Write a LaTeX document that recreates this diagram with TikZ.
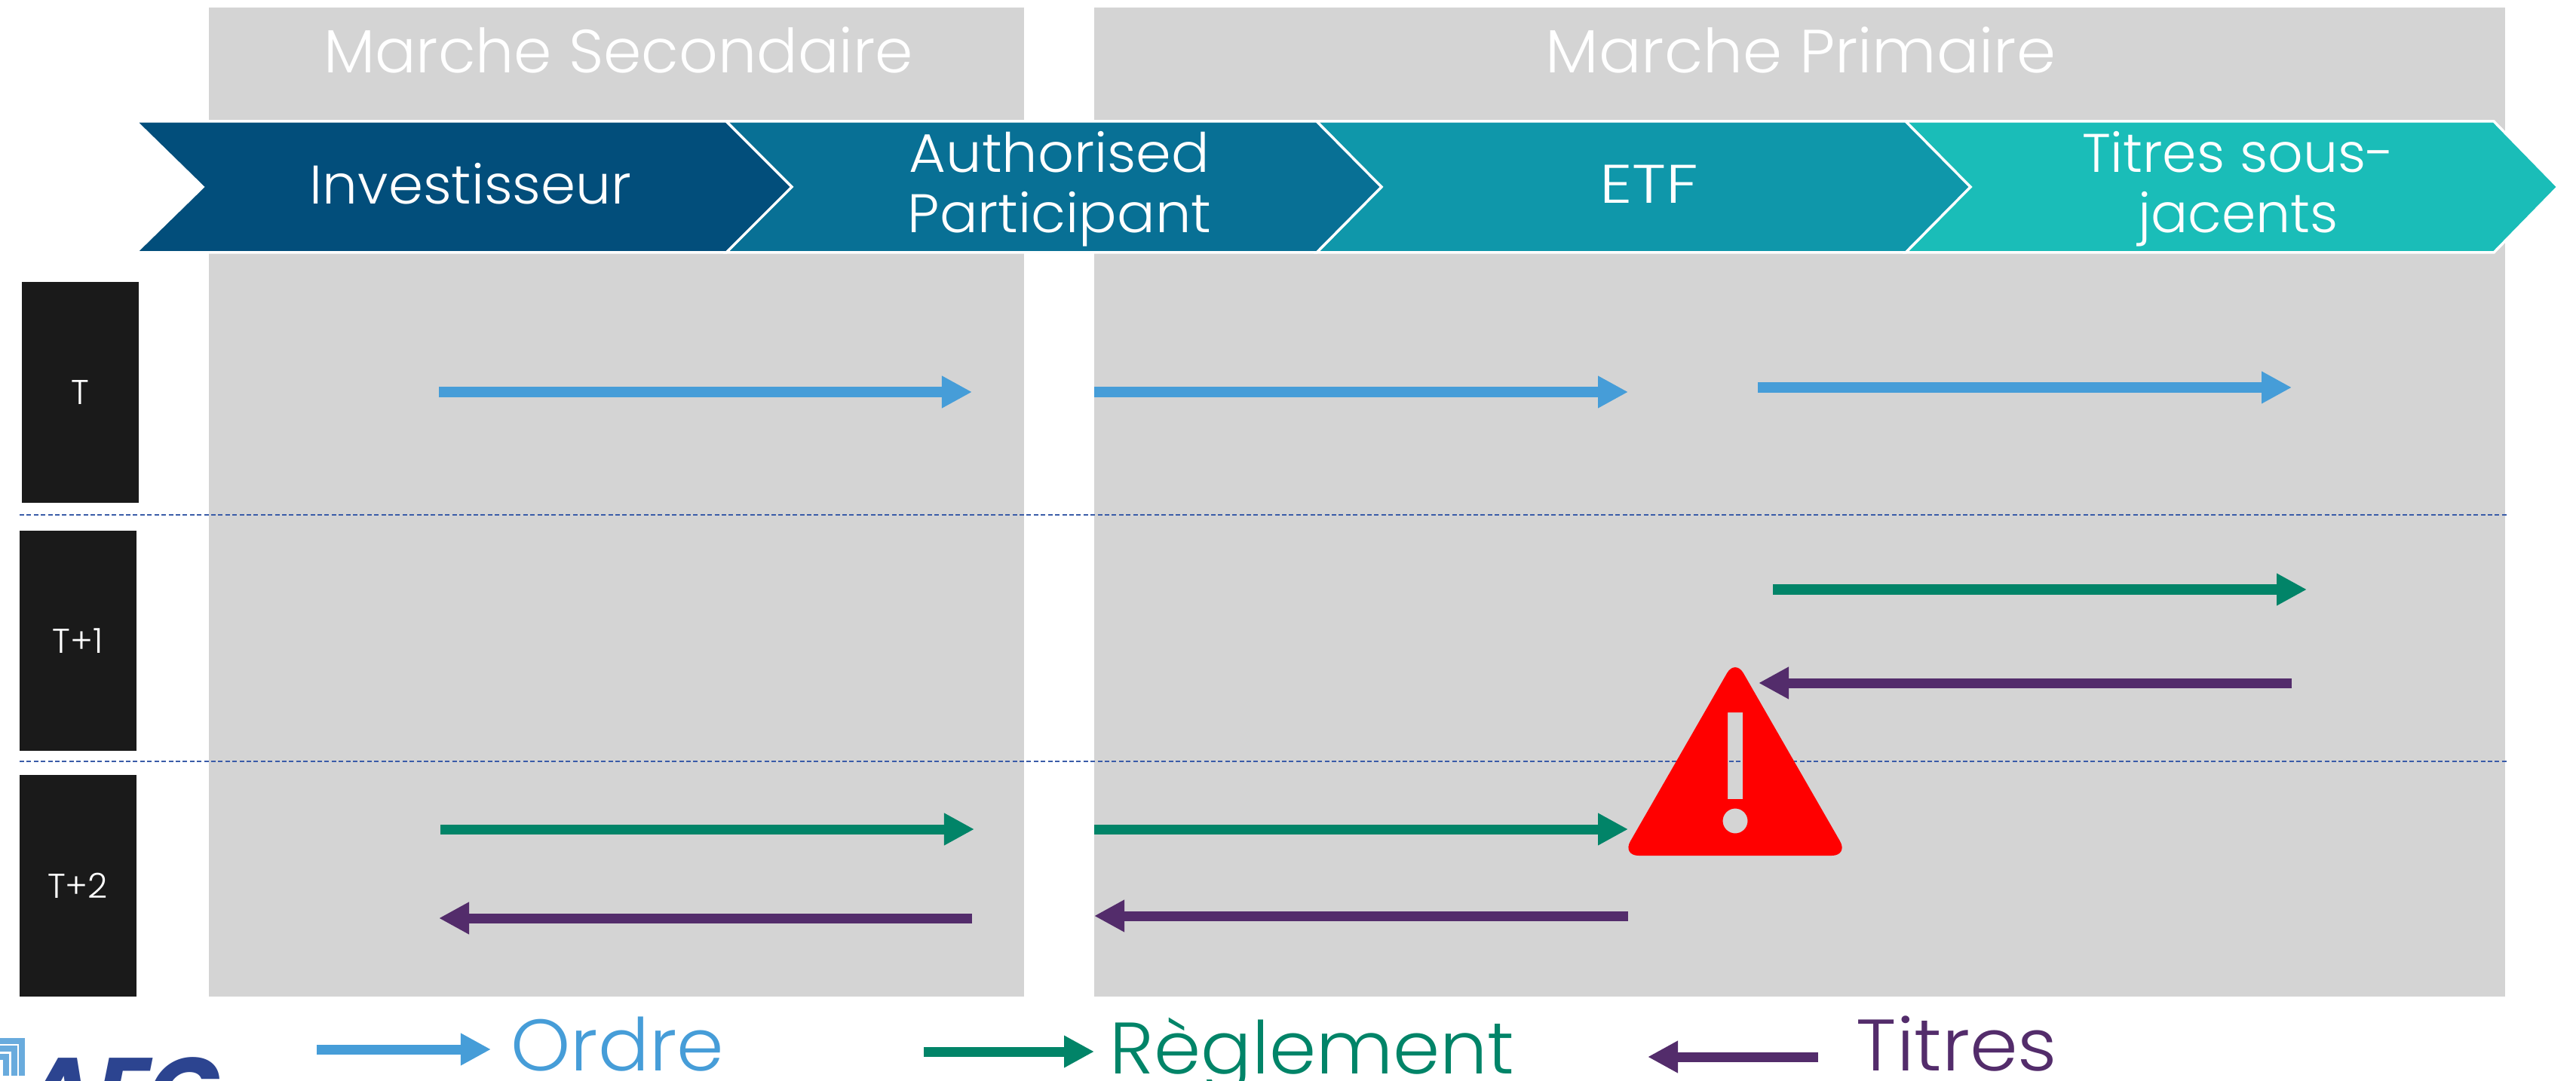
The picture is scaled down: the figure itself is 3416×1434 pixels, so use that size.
\documentclass[tikz,border=0pt]{standalone}
\usepackage{fontspec}
\usepackage{graphicx}
\usetikzlibrary{arrows.meta}
\setmainfont{Poppins}[UprightFont=* Light,BoldFont=* Bold]
\newfontfamily\logofont{Poppins}[UprightFont=* Bold,FakeSlant=0.2]
\newcommand{\widen}[2]{\scalebox{#1}[1]{#2}}
\definecolor{greyband}{HTML}{D4D4D4}
\definecolor{boxblack}{HTML}{1A1A1A}
\definecolor{chevA}{HTML}{024E7B}
\definecolor{chevB}{HTML}{087095}
\definecolor{chevC}{HTML}{0F97AA}
\definecolor{chevD}{HTML}{1ABDB8}
\definecolor{ordreblue}{HTML}{469DD8}
\definecolor{reglegreen}{HTML}{018468}
\definecolor{titrepurple}{HTML}{532C6B}
\definecolor{dashblue}{HTML}{3A5CA8}
\definecolor{logoblue}{HTML}{2C4490}
\definecolor{logolight}{HTML}{69ABDD}
\tikzset{
  x=0.01cm,y=-0.01cm,
  band/.style={fill=greyband},
  chevron/.style={draw=white,line width=0.035cm,line join=miter},
  daybox/.style={fill=boxblack},
  daylabel/.style={text=white,font=\fontsize{13}{15}\selectfont,inner sep=0pt,anchor=center},
  headlabel/.style={text=white,font=\fontsize{23}{27}\selectfont,inner sep=0pt,anchor=base},
  chevlabel/.style={text=white,font=\fontsize{20.5}{22.7}\selectfont,inner sep=0pt,align=center,anchor=center},
  legendlabel/.style={font=\fontsize{27.5}{30}\selectfont,inner sep=0pt,anchor=base west},
  flow/.style={line width=0.13cm,-{Triangle[length=0.4cm,width=0.4cm]}},
  ordre/.style={flow,draw=ordreblue,fill=ordreblue},
  regle/.style={flow,draw=reglegreen,fill=reglegreen},
  titre/.style={flow,draw=titrepurple,fill=titrepurple},
  dayline/.style={draw=dashblue,line width=0.014cm,dash pattern=on 0.06cm off 0.034cm},
  logoband/.style={draw=logolight,line width=0.08cm,line join=miter},
}
\begin{document}
\begin{tikzpicture}
\useasboundingbox (0,0) rectangle (3416,1434);
% grey bands
\fill[band] (277,10) rectangle (1358,1322);
\fill[band] (1451,10) rectangle (3322,1322);
% day separators
\draw[dayline] (26,683) -- (3325,683);
\draw[dayline] (26,1010) -- (3325,1010);
% day boxes
\fill[daybox] (29,374) rectangle (184,667);
\fill[daybox] (26,704) rectangle (181,996);
\fill[daybox] (26,1028) rectangle (181,1322);
\node[daylabel] (dayT) at (106,521) {T};
\node[daylabel] (dayTa) at (103,850) {T+1};
\node[daylabel] (dayTb) at (103,1175) {T+2};
% headings
\node[headlabel] (sec) at (820,97) {Marche Secondaire};
\node[headlabel] (pri) at (2388,97) {\widen{1.034}{Marche Primaire}};
% chevrons
\draw[chevron,fill=chevD] (2527,161) -- (3307,161) -- (3392,248) -- (3307,335) -- (2527,335) -- (2612,248) -- cycle;
\draw[chevron,fill=chevC] (1746,161) -- (2527,161) -- (2613,248) -- (2527,335) -- (1746,335) -- (1831,248) -- cycle;
\draw[chevron,fill=chevB] (963,161) -- (1746,161) -- (1832,248) -- (1746,335) -- (963,335) -- (1048,248) -- cycle;
\draw[chevron,fill=chevA] (180,161) -- (963,161) -- (1050,248) -- (963,335) -- (180,335) -- (269,248) -- cycle;
\node[chevlabel] (inv) at (624,244) {\widen{1.026}{Investisseur}};
\node[chevlabel] (ap) at (1405,251) {\widen{1.04}{Authorised}\\\widen{1.04}{Participant}};
\node[chevlabel] (etf) at (2187,244) {\widen{1.2}{ETF}};
\node[chevlabel] (sj) at (2968,251) {\widen{1.01}{Titres sous-}\\\widen{1.01}{jacents}};
% flow end points
\coordinate (a1) at (582,520);  \coordinate (a2) at (1289,520);
\coordinate (b1) at (1451,520); \coordinate (b2) at (2159,520);
\coordinate (c1) at (2331,514); \coordinate (c2) at (3039,514);
\coordinate (d1) at (2351,782); \coordinate (d2) at (3059,782);
\coordinate (e1) at (3039,906); \coordinate (e2) at (2332,906);
\coordinate (f1) at (584,1100); \coordinate (f2) at (1292,1100);
\coordinate (g1) at (1451,1100);\coordinate (g2) at (2159,1100);
\coordinate (h1) at (1289,1218);\coordinate (h2) at (582,1218);
\coordinate (i1) at (2159,1215);\coordinate (i2) at (1451,1215);
\coordinate (l1) at (420,1392); \coordinate (l2) at (651,1392);
\coordinate (m1) at (1225,1395);\coordinate (m2) at (1451,1395);
\coordinate (n1) at (2411,1402);\coordinate (n2) at (2185,1402);
% flows
\draw[ordre] (a1) -- (a2);
\draw[ordre] (b1) -- (b2);
\draw[ordre] (c1) -- (c2);
\draw[regle] (d1) -- (d2);
\draw[titre] (e1) -- (e2);
\draw[regle] (f1) -- (f2);
\draw[regle] (g1) -- (g2);
\draw[titre] (h1) -- (h2);
\draw[titre] (i1) -- (i2);
% warning sign
\fill[red,even odd rule]
  [rounded corners=0.22cm] (2301,874) -- (2451,1135) -- (2151,1135) -- cycle
  [sharp corners] (2291,945) rectangle (2311,1060)
  (2301,1089) circle[radius=16.5];
% legend
\draw[ordre] (l1) -- (l2);
\draw[regle] (m1) -- (m2);
\draw[titre] (n1) -- (n2);
\node[legendlabel,text=ordreblue] (lo) at (677,1420) {\widen{1.04}{Ordre}};
\node[legendlabel,text=reglegreen] (lr) at (1471,1424) {\widen{1.034}{Règlement}};
\node[legendlabel,text=titrepurple] (lt) at (2461,1420) {\widen{1.06}{Titres}};
% logo, cropped by the page
\draw[logoband] (29,1427) -- (29,1381) -- (0,1381);
\draw[logoband] (19,1427) -- (19,1391) -- (0,1391);
\draw[logoband] (8,1427) -- (8,1402) -- (0,1402);
\begin{scope}
\clip (0,0) rectangle (3416,1434);
\node[inner sep=0pt,anchor=base west,text=logoblue,font=\logofont\fontsize{36}{40}\selectfont] (logo) at (25,1492) {AFG};
\end{scope}
\end{tikzpicture}
\end{document}
